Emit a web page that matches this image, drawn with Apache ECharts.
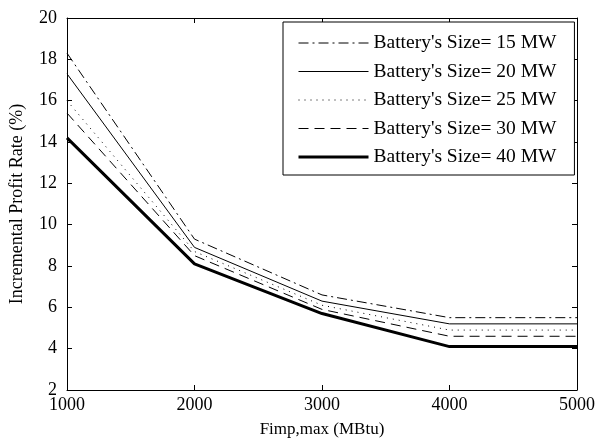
<!DOCTYPE html>
<html>
<head>
<meta charset="utf-8">
<script src="https://cdn.jsdelivr.net/npm/echarts@6/dist/echarts.min.js"></script>
<style>
  html, body { margin: 0; padding: 0; background: #fff; }
  #main { width: 597px; height: 441px; }
</style>
</head>
<body>
<div id="main"></div>
<script>
// data
var xValues = [1000, 2000, 3000, 4000, 5000];
var size15 = [18.3, 9.3, 6.6, 5.5, 5.5];
var size20 = [17.3, 8.9, 6.3, 5.2, 5.2];
var size25 = [16.0, 8.7, 6.1, 4.9, 4.9];
var size30 = [15.4, 8.5, 5.9, 4.6, 4.6];
var size40 = [14.2, 8.1, 5.7, 4.1, 4.1];
var seriesNames = ["Battery's Size= 15 MW", "Battery's Size= 20 MW", "Battery's Size= 25 MW",
                   "Battery's Size= 30 MW", "Battery's Size= 40 MW"];

var font = 'Liberation Serif';
var myChart = echarts.init(document.getElementById('main'));

function pairs(arr) {
    return xValues.map(function (x, i) { return [x, arr[i]]; });
}

function line(name, arr, width, dash) {
    return {
        name: name,
        type: 'line',
        data: pairs(arr),
        symbol: 'none',
        animation: false,
        itemStyle: { color: '#000' },
        lineStyle: { color: '#000', width: width, type: dash }
    };
}

var axisCommon = {
    axisLine: { show: true, lineStyle: { color: '#000', width: 1 } },
    axisTick: { show: true, inside: true, length: 5, lineStyle: { color: '#000' } },
    splitLine: { show: false }
};

var option = {
    backgroundColor: '#fff',
    grid: { left: 67, right: 20, top: 18, bottom: 51, outerBoundsMode: 'none', containLabel: false },
    legend: {
        left: 283,
        top: 22,
        orient: 'vertical',
        align: 'left',
        itemWidth: 70,
        itemHeight: 14,
        itemGap: 8.5,
        padding: [11, 18, 8, 14],
        borderColor: '#000',
        borderWidth: 1,
        backgroundColor: '#fff',
        itemStyle: { opacity: 0 },
        textStyle: { fontFamily: font, fontSize: 19.5, color: '#000' },
        data: seriesNames.map(function (n, i) {
            return i === 4 ? { name: n, lineStyle: { width: 3 } } : { name: n, lineStyle: { width: 1 } };
        })
    },
    xAxis: [
        Object.assign({
            type: 'value', min: 1000, max: 5000, interval: 1000,
            name: 'Fimp,max (MBtu)', nameLocation: 'middle', nameGap: 31,
            nameTextStyle: { fontFamily: font, fontSize: 17, color: '#000' },
            axisLabel: { fontFamily: font, fontSize: 18, color: '#000', margin: 6,
                         formatter: function (v) { return String(v); } }
        }, axisCommon),
        Object.assign({
            type: 'value', min: 1000, max: 5000, interval: 1000, position: 'top',
            axisLabel: { show: false }
        }, axisCommon)
    ],
    yAxis: [
        Object.assign({
            type: 'value', min: 2, max: 20, interval: 2,
            name: 'Incremental Profit Rate (%)', nameLocation: 'middle', nameGap: 41,
            nameTextStyle: { fontFamily: font, fontSize: 18, color: '#000' },
            axisLabel: { fontFamily: font, fontSize: 18, color: '#000', margin: 10 }
        }, axisCommon),
        Object.assign({
            type: 'value', min: 2, max: 20, interval: 2, position: 'right',
            axisLabel: { show: false }
        }, axisCommon)
    ],
    series: [
        line(seriesNames[0], size15, 1, [10, 4, 2, 4]),
        line(seriesNames[1], size20, 1, 'solid'),
        line(seriesNames[2], size25, 1, [1, 5]),
        line(seriesNames[3], size30, 1, [10, 6]),
        line(seriesNames[4], size40, 3, 'solid')
    ]
};

option && myChart.setOption(option);
</script>
</body>
</html>
